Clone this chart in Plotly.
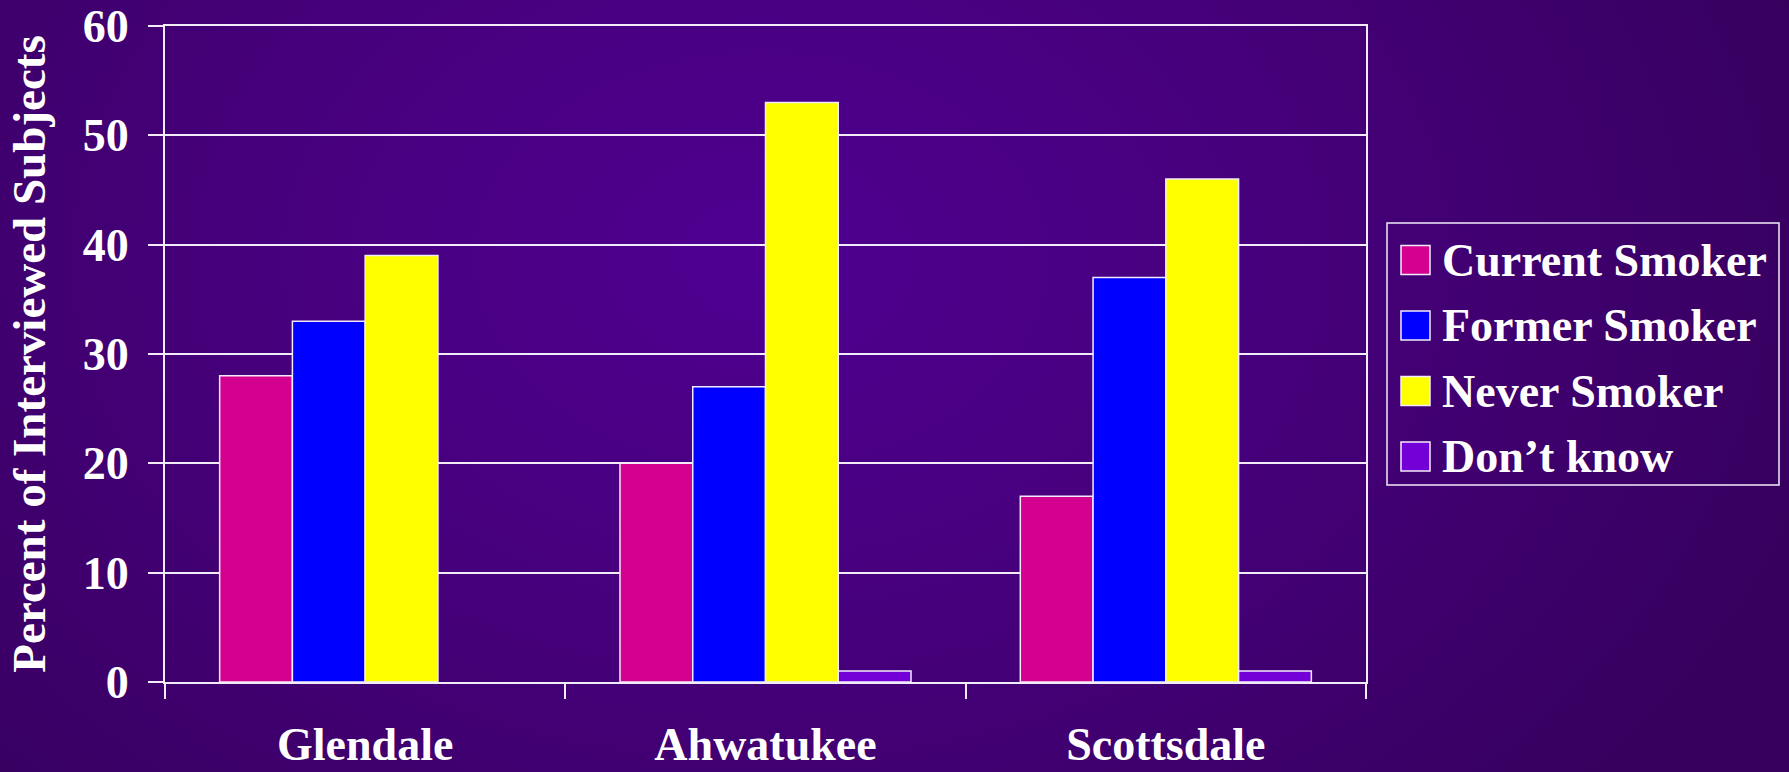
import base64
import plotly.graph_objects as go

# --- data -------------------------------------------------------------
cities = ["Glendale", "Ahwatukee", "Scottsdale"]
series_names = ["Current Smoker", "Former Smoker", "Never Smoker", "Don\u2019t know"]
current_smoker = [28, 20, 17]
former_smoker = [33, 27, 37]
never_smoker = [39, 53, 46]
dont_know = [0, 1, 1]
y_ticks = [0, 10, 20, 30, 40, 50, 60]

series_values = [current_smoker, former_smoker, never_smoker, dont_know]
series_colors = ["#d40090", "#0000ff", "#ffff00", "#7400d8"]

# --- geometry ---------------------------------------------------------
FIG_W, FIG_H = 1789, 772
M_L, M_R, M_T, M_B = 165, 423, 26, 90
PW = FIG_W - M_L - M_R
PH = FIG_H - M_T - M_B

FONT = "Liberation Serif, Times New Roman, serif"
LINE = "#f2ecfa"


def px_x(px):
    return (px - M_L) / PW


def px_y(py):
    return (M_T + PH - py) / PH


# radial purple backdrop as an inline svg
svg = f"""<svg xmlns='http://www.w3.org/2000/svg' width='{FIG_W}' height='{FIG_H}'>
<defs><radialGradient id='g' gradientUnits='userSpaceOnUse' cx='760' cy='260' r='1000'
gradientTransform='translate(760 260) scale(1.1 0.8) translate(-760 -260)'>
<stop offset='0' stop-color='#4f0091'/>
<stop offset='0.4' stop-color='#48007f'/>
<stop offset='1' stop-color='#37005f'/>
</radialGradient></defs>
<rect width='100%' height='100%' fill='url(#g)'/></svg>"""
bg_uri = "data:image/svg+xml;base64," + base64.b64encode(svg.encode()).decode()

fig = go.Figure()
for name, vals, color in zip(series_names, series_values, series_colors):
    fig.add_trace(go.Bar(
        x=cities, y=vals, name=name,
        marker=dict(color=color,
                    line=dict(color=LINE, width=[1.5 if v else 0 for v in vals])),
        showlegend=False,
    ))

# legend drawn as a framed box with large swatches
shapes = [dict(type="rect", xref="paper", yref="paper",
               x0=px_x(1387), x1=px_x(1779), y0=px_y(485), y1=px_y(223),
               line=dict(color=LINE, width=1.5), fillcolor="rgba(0,0,0,0)")]
annotations = []
for i, (name, color) in enumerate(zip(series_names, series_colors)):
    cy = 260 + i * 65.5
    shapes.append(dict(type="rect", xref="paper", yref="paper",
                       x0=px_x(1401), x1=px_x(1430), y0=px_y(cy + 14.5), y1=px_y(cy - 14.5),
                       line=dict(color=LINE, width=1.5), fillcolor=color))
    annotations.append(dict(xref="paper", yref="paper", x=px_x(1440), y=px_y(cy),
                            xanchor="left", yanchor="middle", showarrow=False,
                            text=f"<b>{name}</b>",
                            font=dict(family=FONT, size=46, color="white")))

fig.update_layout(
    width=FIG_W, height=FIG_H,
    margin=dict(l=M_L, r=M_R, t=M_T, b=M_B, pad=0, autoexpand=False),
    paper_bgcolor="#3e006c",
    plot_bgcolor="rgba(0,0,0,0)",
    barmode="group", bargap=0.273, bargroupgap=0,
    font=dict(family=FONT, size=46, color="white"),
    shapes=shapes, annotations=annotations,
    images=[dict(source=bg_uri, xref="paper", yref="paper",
                 x=px_x(0), y=px_y(0), sizex=FIG_W / PW, sizey=FIG_H / PH,
                 xanchor="left", yanchor="top", sizing="stretch", layer="below")],
)

fig.update_xaxes(
    type="category", tickson="boundaries", automargin=False,
    tickvals=cities, ticktext=[f"<b>{c}</b>" for c in cities],
    ticks="outside", ticklen=15, tickwidth=1.5, tickcolor=LINE,
    showline=True, linecolor=LINE, linewidth=2, mirror=True,
    showgrid=False, zeroline=False,
    tickfont=dict(family=FONT, size=46, color="white"),
    ticklabelstandoff=21,
)
fig.update_yaxes(
    range=[0, 60], tickvals=y_ticks, automargin=False,
    ticktext=[f"<b>{v}</b>" for v in y_ticks],
    ticks="outside", ticklen=15, tickwidth=1.5, tickcolor=LINE,
    showline=True, linecolor=LINE, linewidth=2, mirror=True,
    showgrid=True, gridcolor=LINE, gridwidth=1.5, zeroline=False,
    tickfont=dict(family=FONT, size=46, color="white"),
    ticklabelstandoff=10,
    title=dict(text="<b>Percent of Interviewed Subjects</b>",
               font=dict(family=FONT, size=47, color="white"), standoff=22),
)

fig.write_html("out.html")
